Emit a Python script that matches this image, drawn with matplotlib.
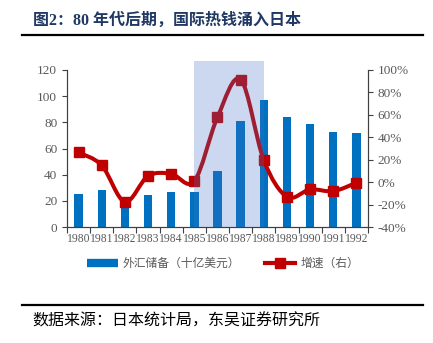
import matplotlib
matplotlib.use("Agg")
import matplotlib.pyplot as plt
import numpy as np
from matplotlib.path import Path
from matplotlib.patches import PathPatch
from matplotlib.lines import Line2D
from matplotlib.ticker import FuncFormatter, MultipleLocator

plt.rcParams['font.family'] = ['Liberation Serif', 'Noto Sans CJK SC']

years = ["1980", "1981", "1982", "1983", "1984", "1985", "1986",
         "1987", "1988", "1989", "1990", "1991", "1992"]
reserves = [25, 28, 23, 24.5, 26.5, 27, 42.5, 81, 97, 84, 78.5, 72.5, 71.5]
growth = [26.5, 15, -17.5, 5.5, 7.5, 1, 58, 91.5, 19.5, -13, -6.5, -8, -0.5]

title = "图2：80 年代后期，国际热钱涌入日本"
source = "数据来源：日本统计局，东吴证券研究所"
bar_label = "外汇储备（十亿美元）"
line_label = "增速（右）"

blue = "#0070C0"
red = "#C00000"
grey = "#595959"

fig = plt.figure(figsize=(4.33, 3.43), dpi=100)
ax = fig.add_axes([0.1547, 0.338, 0.6952, 0.458])
ax2 = ax.twinx()

x = np.arange(len(years))
ax.bar(x, reserves, width=0.36, color=blue, zorder=2)

# smooth line (catmull-rom as bezier) through the growth points
pts = np.column_stack([x, growth])
verts = [tuple(pts[0])]
codes = [Path.MOVETO]
for i in range(len(pts) - 1):
    p0 = pts[max(i - 1, 0)]
    p1 = pts[i]
    p2 = pts[i + 1]
    p3 = pts[min(i + 2, len(pts) - 1)]
    c1 = p1 + (p2 - p0) / 6.0
    c2 = p2 - (p3 - p1) / 6.0
    verts += [tuple(c1), tuple(c2), tuple(p2)]
    codes += [Path.CURVE4] * 3
ax2.add_patch(PathPatch(Path(verts, codes), facecolor="none", edgecolor=red,
                        lw=2.9, zorder=3, capstyle="round", joinstyle="round"))
ax2.plot(x, growth, ls="none", marker="s", ms=6.5, color=red, zorder=4)

ax2.axvspan(5, 8, ymin=0, ymax=1.06, color="#4472C4", alpha=0.27,
            lw=0, zorder=5, clip_on=False)

ax.set_xlim(-0.5, len(years) - 0.5)
ax.set_ylim(0, 120)
ax.yaxis.set_major_locator(MultipleLocator(20))
ax2.set_ylim(-40, 100)
ax2.yaxis.set_major_locator(MultipleLocator(20))
ax2.yaxis.set_major_formatter(FuncFormatter(lambda v, p: "%d%%" % v))

ax.set_xticks(list(x - 0.5) + [len(years) - 0.5])
ax.set_xticklabels([])
ax.set_xticks(x, minor=True)
ax.set_xticklabels(years, minor=True)
ax.tick_params(axis="x", which="minor", length=0, pad=4)
ax.tick_params(axis="x", which="major", length=4, color="#404040")

for a in (ax, ax2):
    a.spines["top"].set_visible(False)
    for s in ("left", "right", "bottom"):
        a.spines[s].set_color("#404040")
    a.tick_params(labelsize=9.5, labelcolor=grey, colors="#404040")
    for lab in a.get_yticklabels():
        lab.set_color(grey)
ax.tick_params(axis="x", which="minor", labelsize=8.4, labelcolor=grey)

handles = [Line2D([], [], color=blue, lw=6, solid_capstyle="butt"),
           Line2D([], [], color=red, lw=3, marker="s", ms=7)]
fig.legend(handles, [bar_label, line_label], loc="center",
           bbox_to_anchor=(0.515, 0.232), ncol=2, frameon=False,
           handlelength=2.6, columnspacing=2.1, handletextpad=0.4,
           prop={"family": ["Noto Sans CJK SC"], "size": 8.5},
           labelcolor=grey)

fig.text(0.076, 0.94, title, fontsize=11.5, fontweight="bold",
         color="#1F3864", va="center")
fig.add_artist(Line2D([0.051, 0.977], [0.897, 0.897], color="black", lw=1.6))
fig.add_artist(Line2D([0.051, 0.977], [0.111, 0.111], color="black", lw=1.6))
fig.text(0.074, 0.063, source, fontsize=11.5, color="black", va="center",
         family=["Noto Sans CJK SC"])

fig.savefig("out.png", dpi=100)
